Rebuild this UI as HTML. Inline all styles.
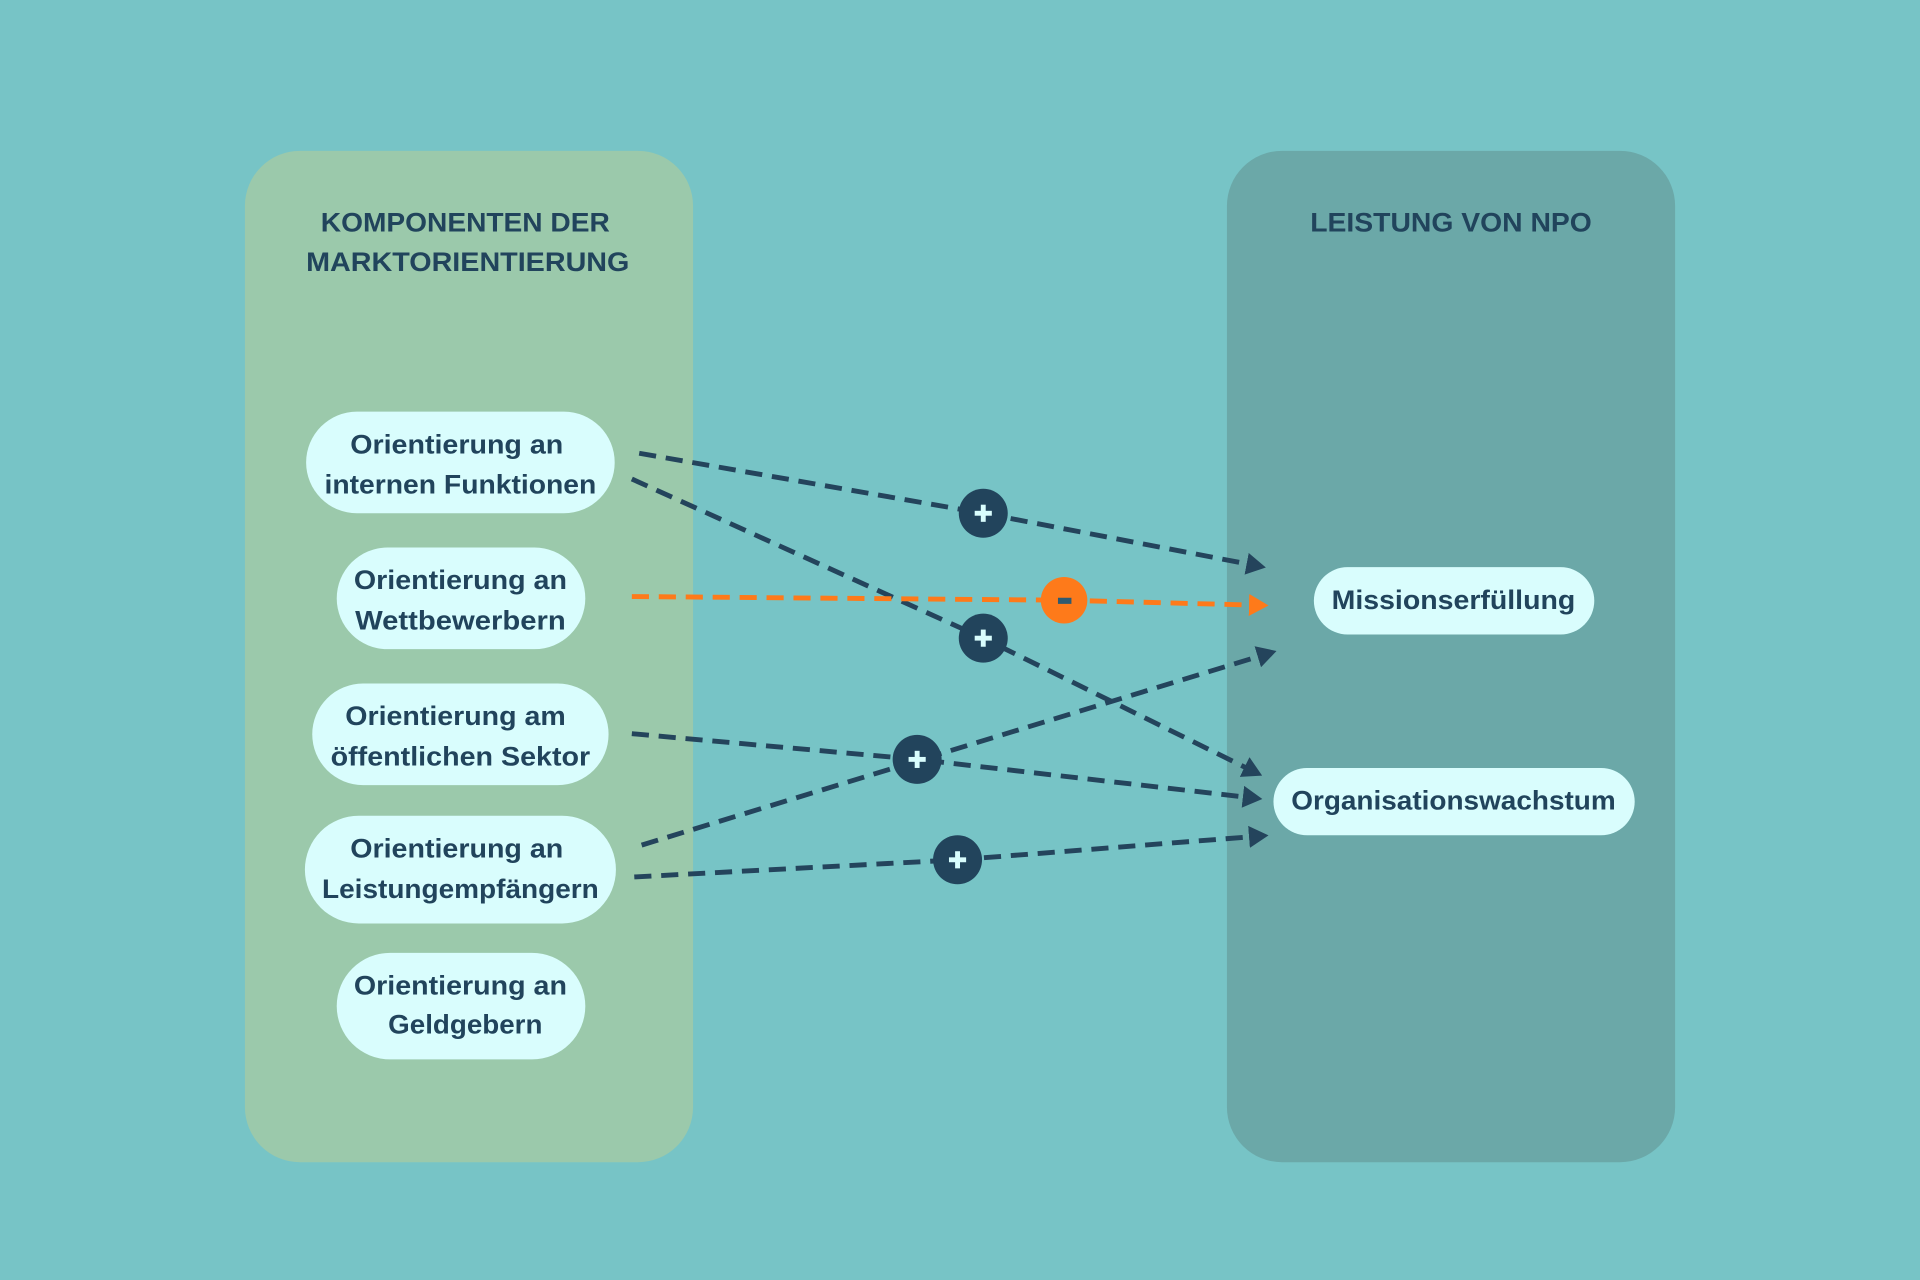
<!DOCTYPE html>
<html><head><meta charset="utf-8"><style>html,body{margin:0;padding:0;background:#77c4c6}svg{display:block}</style></head>
<body>
<svg width="1920" height="1280" viewBox="0 0 1568 1045" xmlns="http://www.w3.org/2000/svg" font-family="'Liberation Sans', sans-serif" font-weight="bold" fill="#21445c">
<defs>
<marker id="ad" markerWidth="16" markerHeight="18" refX="4" refY="9" orient="auto" markerUnits="userSpaceOnUse" viewBox="0 0 16 18"><path d="M0,0 L16,9 L0,18 z" fill="#24445c"/></marker>
<marker id="ao" markerWidth="16" markerHeight="18" refX="4" refY="9" orient="auto" markerUnits="userSpaceOnUse" viewBox="0 0 16 18"><path d="M0,0 L16,9 L0,18 z" fill="#fe7a1a"/></marker>
</defs>
<rect width="1568" height="1045" fill="#77c4c6"/>
<rect x="200" y="123" width="366" height="826" rx="45" fill="#9bc9ab"/>
<rect x="1002" y="123" width="366" height="826" rx="45" fill="#6ba8a8"/>
<g font-size="22" text-anchor="middle">
<text x="380" y="189" textLength="236" lengthAdjust="spacingAndGlyphs">KOMPONENTEN DER</text>
<text x="382" y="221" textLength="264" lengthAdjust="spacingAndGlyphs">MARKTORIENTIERUNG</text>
<text x="1185" y="189" textLength="230" lengthAdjust="spacingAndGlyphs">LEISTUNG VON NPO</text>
</g>
<g fill="#d9fdfd">
<rect x="250" y="336" width="252" height="83" rx="41.5"/>
<rect x="275" y="447" width="203" height="83" rx="41.5"/>
<rect x="255" y="558" width="242" height="83" rx="41.5"/>
<rect x="249" y="666" width="254" height="88" rx="44"/>
<rect x="275" y="778" width="203" height="87" rx="43.5"/>
<rect x="1073" y="463" width="229" height="55" rx="27.5"/>
<rect x="1040" y="627" width="295" height="55" rx="27.5"/>
</g>
<g font-size="22" text-anchor="middle">
<text x="373" y="370" textLength="174" lengthAdjust="spacingAndGlyphs">Orientierung an</text>
<text x="376" y="403" textLength="222" lengthAdjust="spacingAndGlyphs">internen Funktionen</text>
<text x="376" y="481" textLength="174" lengthAdjust="spacingAndGlyphs">Orientierung an</text>
<text x="376" y="514" textLength="172" lengthAdjust="spacingAndGlyphs">Wettbewerbern</text>
<text x="372" y="592" textLength="180" lengthAdjust="spacingAndGlyphs">Orientierung am</text>
<text x="376" y="625" textLength="212" lengthAdjust="spacingAndGlyphs">öffentlichen Sektor</text>
<text x="373" y="700" textLength="174" lengthAdjust="spacingAndGlyphs">Orientierung an</text>
<text x="376" y="733" textLength="226" lengthAdjust="spacingAndGlyphs">Leistungempfängern</text>
<text x="376" y="812" textLength="174" lengthAdjust="spacingAndGlyphs">Orientierung an</text>
<text x="380" y="844" textLength="126" lengthAdjust="spacingAndGlyphs">Geldgebern</text>
<text x="1187" y="497" textLength="199" lengthAdjust="spacingAndGlyphs">Missionserfüllung</text>
<text x="1187" y="661" textLength="265" lengthAdjust="spacingAndGlyphs">Organisationswachstum</text>
</g>
<g fill="none" stroke-width="4" stroke-dasharray="14 8">
<path d="M522,370 L803,419 L1022,461" stroke="#24445c" marker-end="url(#ad)"/>
<path d="M516,391 L803,521 L1020,628" stroke="#24445c" marker-end="url(#ad)"/>
<path d="M516,599 L749,620 L1019,651" stroke="#24445c" marker-end="url(#ad)"/>
<path d="M524,690 L1031,535" stroke="#24445c" marker-end="url(#ad)"/>
<path d="M518,716 L782,702 L1024,683" stroke="#24445c" marker-end="url(#ad)"/>
<path d="M516,487 L869,490 L1024,494" stroke="#fe7a1a" marker-end="url(#ao)"/>
</g>
<g>
<circle cx="803" cy="419" r="20" fill="#22445c"/>
<circle cx="803" cy="521" r="20" fill="#22445c"/>
<circle cx="749" cy="620" r="20" fill="#22445c"/>
<circle cx="782" cy="702" r="20" fill="#22445c"/>
<circle cx="869" cy="490" r="19" fill="#fe7a1a"/>
<g fill="#d9fdfd">
<rect x="796" y="417" width="14" height="4"/><rect x="801" y="412" width="4" height="14"/>
<rect x="796" y="519" width="14" height="4"/><rect x="801" y="514" width="4" height="14"/>
<rect x="742" y="618" width="14" height="4"/><rect x="747" y="613" width="4" height="14"/>
<rect x="775" y="700" width="14" height="4"/><rect x="780" y="695" width="4" height="14"/>
</g>
<rect x="864" y="488" width="11" height="5" fill="#2f5a70"/>
</g>
</svg>
</body></html>
